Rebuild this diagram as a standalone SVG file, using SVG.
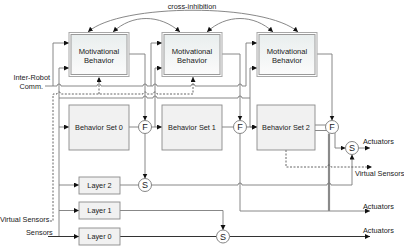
<svg xmlns="http://www.w3.org/2000/svg" width="404" height="247" viewBox="0 0 404 247">
<defs>
<linearGradient id="mg" x1="0" y1="0" x2="0" y2="1">
<stop offset="0" stop-color="#e9eeee"/>
<stop offset="1" stop-color="#fbfbfb"/>
</linearGradient>
<marker id="ar" markerUnits="userSpaceOnUse" markerWidth="6" markerHeight="6" refX="5" refY="2.5" orient="auto-start-reverse">
<path d="M0,0 L5,2.5 L0,5 z" fill="#111"/>
</marker>
</defs>
<style>
text{font-family:"Liberation Sans",Arial,sans-serif;font-size:7.3px;fill:#1a1a1a}
.c{text-anchor:middle}
.e{text-anchor:end}
.m{font-size:7.6px}
.big{font-size:9px}
.mo{fill:none;stroke:#a8a8a8;stroke-width:1}
.mi{fill:url(#mg);stroke:#9a9a9a;stroke-width:1}
.bx{fill:#f1f1f1;stroke:#8a8a8a;stroke-width:0.9}
.ci{fill:#fff;stroke:#777;stroke-width:0.9}
.ln{fill:none;stroke:#7a7a7a;stroke-width:0.9}
.dk{fill:none;stroke:#333;stroke-width:1}
.th{fill:none;stroke:#8a8a8a;stroke-width:2.2}
.ds{fill:none;stroke:#555;stroke-width:0.9;stroke-dasharray:2,1.5}
.a{marker-end:url(#ar)}
.b{marker-start:url(#ar);marker-end:url(#ar)}
</style>
<rect width="404" height="247" fill="#fff"/>

<g id="connectors">
<path class="ln b" d="M88,32 C120,3 266,3 298,32"/>
<path class="ln b" d="M113,32 C132,14 160,14 180,32"/>
<path class="ln b" d="M207,32 C226,14 254,14 273,32"/>
<path class="ln" d="M45,86 H57 a2,2 0 0 1 4,0 H97 a2,2 0 0 1 4,0 H143 a2,2 0 0 1 4,0 H153 a2,2 0 0 1 4,0 H191 a2,2 0 0 1 4,0 H238 a2,2 0 0 1 4,0 H246 V43"/>
<path class="ln a" d="M246,43 H257"/>
<path class="ln a" d="M53,86 V43 H69"/>
<path class="ln a" d="M151,86 V43 H162"/>
<path class="ln a" d="M59,236.5 V68 H69"/>
<path class="ln a" d="M59,127 H69"/>
<path class="ln a" d="M59,185 H79"/>
<path class="ln a" d="M59,210.5 H79"/>
<path class="ln" d="M59,98 H143 a2,2 0 0 1 4,0 H153 a2,2 0 0 1 4,0 H238 a2,2 0 0 1 4,0 H250"/>
<path class="ln a" d="M250,98 V68 H257"/>
<path class="ln a" d="M250,98 V127 H257"/>
<path class="ln a" d="M155,100 V68 H162"/>
<path class="ln" d="M155,100 V127"/>
<path class="ds a" d="M50,221 H53 V94 H57 a2,2 0 0 1 4,0 H143 a2,2 0 0 1 4,0 H153 a2,2 0 0 1 4,0 H193 V77"/>
<path class="ds a" d="M99,94 V77"/>
<path class="ln a" d="M129,54 H145 V120.5"/>
<path class="ln a" d="M222,54 H240 V120.5"/>
<path class="ln a" d="M317,54 H332 V120.5"/>
<path class="ln" d="M129,127 H138.5"/>
<path class="ln" d="M222,127 H233.5"/>
<path class="ln" d="M315,125 H326"/>
<path class="ln" d="M315,130.5 H326.5"/>
<path class="ln a" d="M151.5,127 H162"/>
<path class="ln a" d="M246.5,127 H257"/>
<path class="ln a" d="M145,133.5 V178.5"/>
<path class="ln a" d="M240,133.5 V211 H370"/>
<path class="th" d="M329,133.5 V211"/>
<path class="ln a" d="M335,133 V148 H345.5"/>
<path class="ln a" d="M358.5,148 H370"/>
<path class="ln" d="M120,185 H138.5"/>
<path class="ln a" d="M151.5,185 H238 a2,2 0 0 1 4,0 H327 a2,2 0 0 1 4,0 H352 V154.5"/>
<path class="ln a" d="M120,210.5 H223 V230"/>
<path class="dk" d="M120,236.5 H216.5"/>
<path class="dk a" d="M229.5,236.5 H370"/>
<path class="dk a" d="M48,236.5 H79"/>
<path class="ds a" d="M286,150 V167 H327 a2,2 0 0 1 4,0 H372"/>
</g>

<g id="mb0"><rect class="mo" x="69" y="32.5" width="60" height="44"/><rect class="mi" x="71" y="34.5" width="56" height="40"/><text class="c m" x="99" y="53.5">Motivational</text><text class="c m" x="99" y="62.5">Behavior</text></g>
<g id="mb1"><rect class="mo" x="162" y="32.5" width="60" height="44"/><rect class="mi" x="164" y="34.5" width="56" height="40"/><text class="c m" x="192" y="53.5">Motivational</text><text class="c m" x="192" y="62.5">Behavior</text></g>
<g id="mb2"><rect class="mo" x="257" y="32.5" width="60" height="44"/><rect class="mi" x="259" y="34.5" width="56" height="40"/><text class="c m" x="287" y="53.5">Motivational</text><text class="c m" x="287" y="62.5">Behavior</text></g>

<g id="bs0"><rect class="bx" x="69" y="105" width="60" height="45"/><text class="c" x="99" y="129.5">Behavior Set 0</text></g>
<g id="bs1"><rect class="bx" x="162" y="105" width="60" height="45"/><text class="c" x="192" y="129.5">Behavior Set 1</text></g>
<g id="bs2"><rect class="bx" x="257" y="105" width="58" height="45"/><text class="c" x="286" y="129.5">Behavior Set 2</text></g>

<g id="layer2"><rect class="bx" x="79" y="177" width="41" height="17"/><text class="c" x="99.5" y="188">Layer 2</text></g>
<g id="layer1"><rect class="bx" x="79" y="202" width="41" height="17"/><text class="c" x="99.5" y="213">Layer 1</text></g>
<g id="layer0"><rect class="bx" x="79" y="228" width="41" height="17"/><text class="c" x="99.5" y="239">Layer 0</text></g>

<g id="f0"><circle class="ci" cx="145" cy="127" r="6.5"/><text class="c big" x="145" y="130.3">F</text></g>
<g id="f1"><circle class="ci" cx="240" cy="127" r="6.5"/><text class="c big" x="240" y="130.3">F</text></g>
<g id="f2"><circle class="ci" cx="332" cy="127" r="6.5"/><text class="c big" x="332" y="130.3">F</text></g>
<g id="s1"><circle class="ci" cx="145" cy="185" r="6.5"/><text class="c big" x="145" y="188.3">S</text></g>
<g id="s2"><circle class="ci" cx="352" cy="148" r="6.5"/><text class="c big" x="352" y="151.3">S</text></g>
<g id="s3"><circle class="ci" cx="223" cy="236.5" r="6.5"/><text class="c big" x="223" y="239.8">S</text></g>

<g id="labels">
<text class="c" x="192" y="8.5">cross-inhibition</text>
<text class="e" x="50" y="79.5">Inter-Robot</text>
<text class="e" x="43" y="89">Comm.</text>
<text x="0" y="221.5">Virtual Sensors</text>
<text x="26" y="234.5">Sensors</text>
<text x="363" y="143.5">Actuators</text>
<text x="355" y="175.5">Virtual Sensors</text>
<text x="363" y="208.5">Actuators</text>
<text x="363" y="232.5">Actuators</text>
</g>
</svg>
